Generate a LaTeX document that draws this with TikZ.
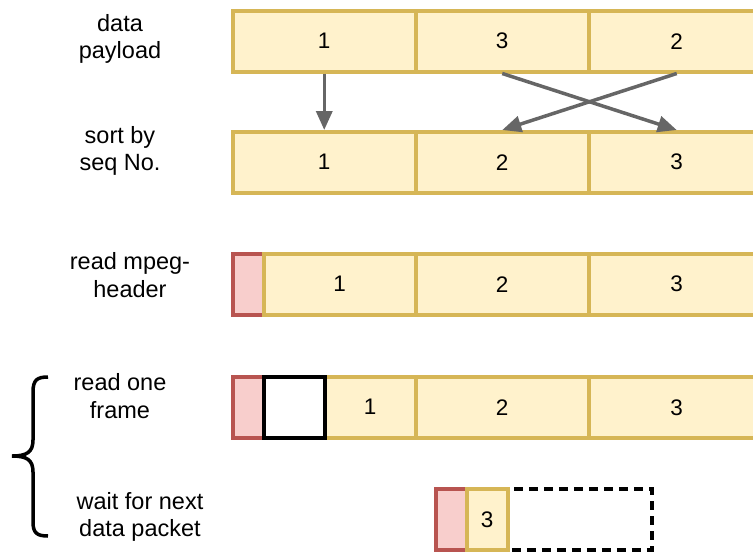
\documentclass[tikz,border=0pt]{standalone}
\usepackage{fontspec}
\setmainfont{Liberation Sans}
\usetikzlibrary{arrows.meta}
\definecolor{cellfill}{HTML}{FFF2CC}
\definecolor{cellline}{HTML}{D6B656}
\definecolor{hdrfill}{HTML}{F8CECC}
\definecolor{hdrline}{HTML}{B85450}
\definecolor{movegray}{HTML}{666666}
\tikzset{
    cell/.style={draw=cellline, fill=cellfill, line width=3.5pt, anchor=north west,
        inner sep=0pt, minimum height=61pt, font=\fontsize{22.5}{27}\selectfont},
    hdr/.style={draw=hdrline, fill=hdrfill, line width=3.5pt, anchor=north west,
        inner sep=0pt, minimum width=31pt, minimum height=61pt},
    frm/.style={draw=black, fill=white, line width=3.5pt, anchor=north west,
        inner sep=0pt, minimum width=61pt, minimum height=61pt},
    gap/.style={draw=black, line width=3.5pt, dash pattern=on 9pt off 6pt, anchor=north west,
        inner sep=0pt, minimum height=61pt},
    lbl/.style={align=center, font=\fontsize{23.5}{27.5}\selectfont},
    move/.style={draw=movegray, line width=3.5pt, -{Triangle[length=19pt,width=16pt]}}
}
\begin{document}
\begin{tikzpicture}[x=1pt,y=-1pt]
    \useasboundingbox (0,0) rectangle (753,552);
    % labels
    \node[lbl] (l1) at (120,39) {data\\payload};
    \node[lbl] (l2) at (120,151) {sort by\\seq No.};
    \node[lbl] (l3) at (130,275) {read mpeg-\\header};
    \node[lbl] (l4) at (120,396) {read one\\frame};
    \node[lbl] (l5) at (140,517) {wait for next\\data packet};
    % data payload
    \node[cell, minimum width=183pt] (r1a) at (231,9) {1};
    \node[cell, minimum width=173pt] (r1b) at (414,9) {3};
    \node[cell, minimum width=176pt] (r1c) at (587,9) {2};
    % sorted
    \node[cell, minimum width=183pt] (r2a) at (231,130) {1};
    \node[cell, minimum width=173pt] (r2b) at (414,130) {2};
    \node[cell, minimum width=176pt] (r2c) at (587,130) {3};
    \draw[move] (r1a.south) -- (r2a.north);
    \draw[move] (r1b.south) -- (r2c.north);
    \draw[move] (r1c.south) -- (r2b.north);
    % mpeg header
    \node[hdr] (r3h) at (231,252) {};
    \node[cell, minimum width=152pt] (r3a) at (262,252) {1};
    \node[cell, minimum width=173pt] (r3b) at (414,252) {2};
    \node[cell, minimum width=176pt] (r3c) at (587,252) {3};
    % one frame
    \node[cell, minimum width=91pt] (r4a) at (323,375) {1};
    \node[cell, minimum width=173pt] (r4b) at (414,375) {2};
    \node[cell, minimum width=176pt] (r4c) at (587,375) {3};
    \node[hdr] (r4h) at (231,375) {};
    \node[frm] (r4f) at (262,375) {};
    % next packet
    \node[gap, minimum width=185pt] (r5g) at (465,487) {};
    \node[hdr] (r5h) at (434,487) {};
    \node[cell, minimum width=41pt] (r5a) at (465,487) {3};
    % brace
    \draw[line width=3.5pt] (48,377) .. controls (37,377) and (33,380) .. (33,392) -- (33,440)
        .. controls (33,452) and (27,456) .. (12,456)
        .. controls (27,456) and (33,460) .. (33,472) -- (33,522)
        .. controls (33,533) and (37,536) .. (48,536);
\end{tikzpicture}
\end{document}
